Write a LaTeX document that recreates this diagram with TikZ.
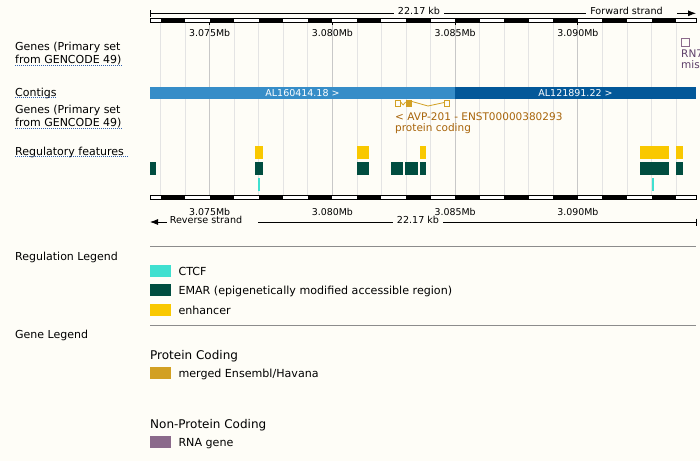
\documentclass[tikz,border=0pt]{standalone}
\usepackage{fontspec}
\setmainfont{DejaVu Sans}
\usepackage{xcolor}
\usepackage{tikz}
\usetikzlibrary{arrows.meta}
\definecolor{bg}{HTML}{FEFDF7}
\definecolor{gridc}{HTML}{E4E4E4}
\definecolor{gridm}{HTML}{C8C8C8}
\definecolor{sep}{HTML}{8C8C8C}
\definecolor{ulink}{HTML}{2F5FAF}
\definecolor{ctga}{HTML}{368DC8}
\definecolor{ctgb}{HTML}{035899}
\definecolor{merged}{HTML}{D2A023}
\definecolor{mergedtxt}{HTML}{A8640A}
\definecolor{rnagene}{HTML}{8B6A8B}
\definecolor{rnatxt}{HTML}{5E3F6A}
\definecolor{ctcf}{HTML}{40E0D0}
\definecolor{emar}{HTML}{004D40}
\definecolor{enh}{HTML}{F9C800}
\tikzset{
  grid/.style={draw=gridc, line width=0.8pt},
  gridmaj/.style={draw=gridm, line width=0.8pt},
  barbox/.style={draw=black, fill=white, line width=0.8pt},
  rule/.style={draw=black, line width=0.8pt},
  uline/.style={draw=ulink, line width=0.8pt, dash pattern=on 1pt off 1pt},
  lbl/.style={anchor=base west, inner sep=0pt, font=\fontsize{11}{13}\selectfont},
  tickl/.style={anchor=base, inner sep=0pt, font=\fontsize{9.4}{11}\selectfont},
  strand/.style={anchor=base, inner xsep=4pt, inner ysep=0pt, font=\fontsize{9.6}{11}\selectfont},
  ctgl/.style={anchor=base, inner sep=0pt, text=white, font=\fontsize{9.5}{11}\selectfont},
  trl/.style={anchor=base west, inner sep=0pt, text=mergedtxt, font=\fontsize{10.5}{12}\selectfont},
  legl/.style={anchor=base west, inner sep=0pt, font=\fontsize{11.1}{13}\selectfont},
  legh/.style={anchor=base west, inner sep=0pt, font=\fontsize{12}{14}\selectfont}
}

\begin{document}
\begin{tikzpicture}[x=1pt,y=-1pt]
  \useasboundingbox (0,0) rectangle (700,461);
  \fill[bg] (0,0) rectangle (700,461);

  % kb grid
  \foreach \k in {0,...,21}
    \draw[grid] ({160.5+24.55*\k},22) -- ({160.5+24.55*\k},195.5);
  \foreach \k in {2,7,12,17}
    \draw[gridmaj] ({160.5+24.55*\k},22) -- ({160.5+24.55*\k},195.5);

  % scale bars, top and bottom
  \foreach \y in {18,195.5} {
    \draw[barbox] (150,\y) rectangle (696,{\y+4});
    \foreach \k in {0,...,10}
      \fill[black] ({160.5+49.1*\k},\y) rectangle ({185.05+49.1*\k},{\y+4});
  }
  \foreach \k in {2,7,12,17}
    \draw[rule] ({160.5+24.55*\k},22) -- ({160.5+24.55*\k},25);

  \foreach \x/\t [count=\i] in {209.6/3.075Mb,332.35/3.080Mb,455.1/3.085Mb,577.85/3.090Mb} {
    \node[tickl] (ttop\i) at (\x,36) {\t};
    \node[tickl] (tbot\i) at (\x,215) {\t};
  }

  % forward strand line
  \coordinate (tl) at (150,13.3);
  \coordinate (tr) at (696,13.3);
  \coordinate (fwa) at (677,13.3);
  \node[strand] (kbtop) at (419,14.6) {22.17 kb};
  \node[strand] (fwd) at (626.5,14.6) {Forward strand};
  \draw[rule] (150,10) -- (150,16.7);
  \draw[rule] (tl) -- (tl -| kbtop.west);
  \draw[rule] (tl -| kbtop.east) -- (tl -| fwd.west);
  \draw[rule,-{Latex[length=8pt,width=6pt]}] (fwa) -- (tr);

  % reverse strand line
  \coordinate (bl) at (150,222);
  \coordinate (br) at (696,222);
  \coordinate (rva) at (167,222);
  \node[strand] (rev) at (206,223.4) {Reverse strand};
  \node[strand] (kbbot) at (418,223.4) {22.17 kb};
  \draw[rule,-{Latex[length=8pt,width=6pt]}] (rva) -- (bl);
  \draw[rule] (rev.east |- bl) ++(12,0) -- (bl -| kbbot.west);
  \draw[rule] (bl -| kbbot.east) -- (br);
  \draw[rule] (696,218.5) -- (696,225.5);

  % track labels
  \node[lbl] (g1a) at (15,50.7) {Genes (Primary set};
  \node[lbl] (g1b) at (15,63.3) {from GENCODE 49)};
  \node[lbl] (ctg) at (15,96) {Contigs};
  \node[lbl] (g2a) at (15,113.3) {Genes (Primary set};
  \node[lbl] (g2b) at (15,126.3) {from GENCODE 49)};
  \node[lbl] (reg) at (15,155) {Regulatory features};
  \foreach \n in {g1b,ctg,g2b}
    \draw[uline] ([yshift=-1.8pt]\n.base west) -- ([yshift=-1.8pt]\n.base east);
  \draw[uline] ([yshift=-1.8pt]reg.base west) -- ([xshift=4pt,yshift=-1.8pt]reg.base east);

  % RNA gene at the right edge
  \draw[rnagene, line width=0.8pt] (681.5,38.5) rectangle (689,46);
  \begin{scope}
    \clip (0,0) rectangle (700,461);
    \node[trl, text=rnatxt] (rna1) at (681,57) {RN7};
    \node[trl, text=rnatxt] (rna2) at (681,68) {mis};
  \end{scope}

  % contigs
  \fill[ctga] (150,87) rectangle (455.1,99);
  \fill[ctgb] (455.1,87) rectangle (696,99);
  \node[ctgl] (ctg1) at (302.5,96.8) {AL160414.18 >};
  \node[ctgl] (ctg2) at (575.5,96.8) {AL121891.22 >};

  % transcript AVP-201
  \draw[merged, line width=0.8pt] (395.8,100.4) rectangle (400.6,106.8);
  \fill[merged] (405.6,100) rectangle (412,107.2);
  \draw[merged, line width=0.8pt] (444.2,100.4) rectangle (449,106.8);
  \draw[merged, line width=0.8pt] (400.6,102) -- (403.1,105) -- (405.6,102);
  \draw[merged, line width=0.8pt] (412,101.5) -- (428,106) -- (444.2,102.5);
  \node[trl] (tr1) at (395,120) {< AVP-201 - ENST00000380293};
  \node[trl] (tr2) at (395,131) {protein coding};

  % regulatory features
  \foreach \a/\b in {255/263,357/369,420/426,640/669,676/683}
    \fill[enh] (\a,146) rectangle (\b,159);
  \foreach \a/\b in {150/156,255/263,357/369,391/403,405/418,420/426,640/669,676/683}
    \fill[emar] (\a,162) rectangle (\b,175);
  \foreach \a/\b in {258/260,652/654}
    \fill[ctcf] (\a,178) rectangle (\b,191);

  % regulation legend
  \draw[sep, line width=1pt] (150,246.7) -- (696,246.7);
  \node[lbl] (rlg) at (15,260) {Regulation Legend};
  \fill[ctcf] (150,265) rectangle (171,276.7);
  \node[legl] (lctcf) at (178.3,275.5) {CTCF};
  \fill[emar] (150,284.3) rectangle (171,296);
  \node[legl] (lemar) at (178.3,294.8) {EMAR (epigenetically modified accessible region)};
  \fill[enh] (150,304) rectangle (171,316);
  \node[legl] (lenh) at (178.3,314.3) {enhancer};

  % gene legend
  \draw[sep, line width=1pt] (150,325.3) -- (696,325.3);
  \node[lbl] (glg) at (15,338) {Gene Legend};
  \node[legh] (pc) at (150,359) {Protein Coding};
  \fill[merged] (150,367.3) rectangle (171,378.7);
  \node[legl] (lmerged) at (178.3,377.5) {merged Ensembl/Havana};
  \node[legh] (npc) at (150,428.3) {Non-Protein Coding};
  \fill[rnagene] (150,436) rectangle (171,447.7);
  \node[legl] (lrna) at (178.3,446.6) {RNA gene};
\end{tikzpicture}
\end{document}
